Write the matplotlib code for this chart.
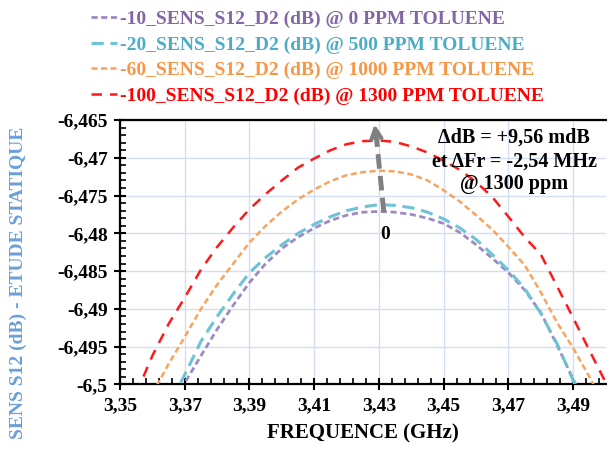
import matplotlib
matplotlib.use("Agg")
import matplotlib.pyplot as plt
from matplotlib.ticker import FixedLocator, AutoMinorLocator, FuncFormatter

plt.rcParams['font.family'] = ['Liberation Serif', 'DejaVu Serif']
plt.rcParams['font.weight'] = 'bold'

# frequency points (GHz)
freq = [3.355, 3.360, 3.365, 3.370, 3.375, 3.380, 3.385, 3.390, 3.395, 3.400,
        3.405, 3.410, 3.415, 3.420, 3.425, 3.430, 3.435, 3.440, 3.445, 3.450,
        3.455, 3.460, 3.465, 3.470, 3.475, 3.480, 3.485, 3.490, 3.495, 3.500]

# S12 (dB)
s12_0ppm = [-6.5120, -6.5080, -6.5040, -6.4998, -6.4962, -6.4927, -6.4895, -6.4865, -6.4840, -6.4820,
            -6.4805, -6.4793, -6.4783, -6.4776, -6.4772, -6.4771, -6.4772, -6.4775, -6.4780, -6.4787,
            -6.4799, -6.4815, -6.4833, -6.4852, -6.4875, -6.4905, -6.4948, -6.4993, -6.5040, -6.5090]
s12_500ppm = [-6.5110, -6.5070, -6.5030, -6.4987, -6.4943, -6.4910, -6.4880, -6.4852, -6.4832, -6.4815,
              -6.4800, -6.4788, -6.4778, -6.4770, -6.4765, -6.4762, -6.4763, -6.4766, -6.4772, -6.4781,
              -6.4793, -6.4808, -6.4828, -6.4849, -6.4873, -6.4906, -6.4946, -6.4995, -6.5045, -6.5095]
s12_1000ppm = [-6.5058, -6.5012, -6.4973, -6.4937, -6.4900, -6.4868, -6.4840, -6.4812, -6.4790, -6.4771,
               -6.4755, -6.4742, -6.4731, -6.4723, -6.4719, -6.4717, -6.4718, -6.4722, -6.4730, -6.4743,
               -6.4758, -6.4776, -6.4795, -6.4818, -6.4842, -6.4878, -6.4918, -6.4952, -6.4990, -6.5030]
s12_1300ppm = [-6.5012, -6.4962, -6.4920, -6.4885, -6.4848, -6.4818, -6.4792, -6.4768, -6.4748, -6.4730,
               -6.4713, -6.4701, -6.4690, -6.4682, -6.4678, -6.4677, -6.4679, -6.4685, -6.4693, -6.4704,
               -6.4716, -6.4732, -6.4752, -6.4778, -6.4805, -6.4828, -6.4870, -6.4912, -6.4955, -6.4997]

labels = ['-10_SENS_S12_D2 (dB) @ 0 PPM TOLUENE',
          '-20_SENS_S12_D2 (dB) @ 500 PPM TOLUENE',
          '-60_SENS_S12_D2 (dB) @ 1000 PPM TOLUENE',
          '-100_SENS_S12_D2 (dB) @ 1300 PPM TOLUENE']

x_ticks = [3.35, 3.37, 3.39, 3.41, 3.43, 3.45, 3.47, 3.49]
y_ticks = [-6.5, -6.495, -6.49, -6.485, -6.48, -6.475, -6.47, -6.465]

fig = plt.figure(figsize=(6.07, 4.49), dpi=100)
ax = fig.add_axes([0.1977, 0.1437, 0.80, 0.589])

line_cols = ['#9D89C3', '#6EC3D5', '#F9A35E', '#FF1A1A']
text_cols = ['#8266A6', '#4BACC6', '#F79646', '#FF0000']
dashes = [(2.2, 1.3), (4.0, 2.2), (2.4, 1.4), (4.2, 3.2)]
widths = [2.0, 2.2, 1.8, 1.8]
series = [s12_0ppm, s12_500ppm, s12_1000ppm, s12_1300ppm]

handles = []
for ys, c, d, w, lab in zip(series, line_cols, dashes, widths, labels):
    h, = ax.plot(freq, ys, color=c, lw=w, dashes=d, label=lab, zorder=3)
    handles.append(h)

ax.set_xlim(3.35, 3.50)
ax.set_ylim(-6.5, -6.465)
ax.xaxis.set_major_locator(FixedLocator(x_ticks))
ax.yaxis.set_major_locator(FixedLocator(y_ticks))
ax.xaxis.set_minor_locator(AutoMinorLocator(5))
ax.yaxis.set_minor_locator(AutoMinorLocator(5))
fmt = FuncFormatter(lambda v, p: f"{v:g}".replace('.', ','))
ax.xaxis.set_major_formatter(fmt)
ax.yaxis.set_major_formatter(fmt)

ax.grid(True, which='major', color='#D3DEF1', lw=1.0, zorder=0)
ax.spines['right'].set_visible(False)
for s in ['left', 'bottom', 'top']:
    ax.spines[s].set_linewidth(1.6)
ax.tick_params(which='major', direction='inout', length=8, width=1.5,
               labelsize=14, pad=5)
ax.tick_params(which='minor', direction='in', length=4, width=1.2)

ax.set_xlabel('FREQUENCE (GHz)', fontsize=15, fontweight='bold', labelpad=7)
fig.text(0.03, 0.37, 'SENS S12 (dB) - ETUDE STATIQUE', rotation=90,
         color='#6A9FD8', fontsize=14, fontweight='bold', ha='center', va='center')

# arrow from the 0 ppm peak up to the top
ax.plot([3.4315, 3.4290], [-6.4772, -6.4665], color='#808080', lw=3.5,
        dashes=(3, 1.5), zorder=4)
ax.annotate('', xy=(3.4285, -6.4652), xytext=(3.4290, -6.4668),
            arrowprops=dict(arrowstyle='->', color='#808080', lw=3,
                            mutation_scale=18), zorder=5)
ax.text(3.4318, -6.4801, '0', fontsize=14, fontweight='bold',
        ha='center', va='center', zorder=5)

ax.text(3.4718, -6.4673, 'ΔdB = +9,56 mdB', fontsize=14.5, fontweight='bold',
        ha='center', va='center')
ax.text(3.4718, -6.4705, 'et ΔFr = -2,54 MHz', fontsize=14.5, fontweight='bold',
        ha='center', va='center')
ax.text(3.4718, -6.4735, '@ 1300 ppm', fontsize=14.5, ha='center', va='center')

leg = fig.legend(handles=handles, loc='upper left', bbox_to_anchor=(0.133, 1.0),
                 frameon=False, fontsize=14, handlelength=1.3, handletextpad=0.15,
                 labelspacing=0.4, borderaxespad=0.15, labelcolor=text_cols)

fig.savefig('out.png', dpi=100)
